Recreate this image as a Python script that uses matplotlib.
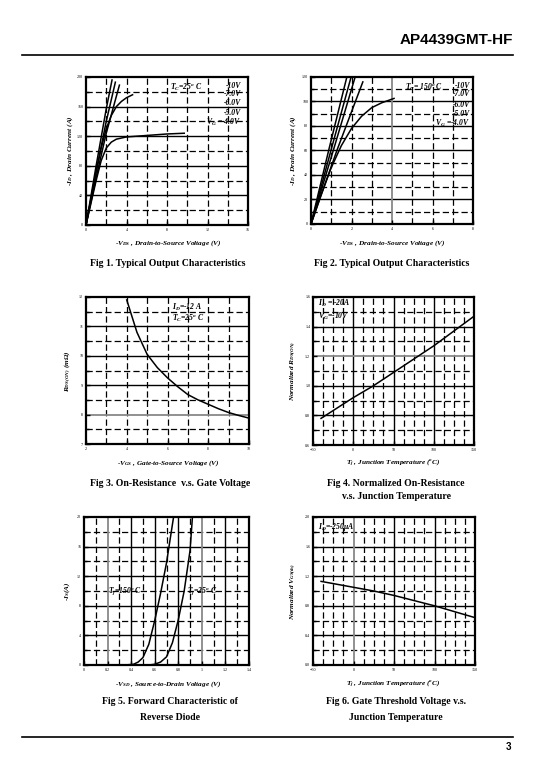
import numpy as np
import matplotlib
matplotlib.use('Agg')
import matplotlib.pyplot as plt

plt.rcParams['font.family'] = 'Liberation Serif'
plt.rcParams['mathtext.fontset'] = 'custom'
plt.rcParams['mathtext.rm'] = 'Liberation Serif:bold:italic'
plt.rcParams['mathtext.it'] = 'Liberation Serif:bold:italic'
plt.rcParams['mathtext.bf'] = 'Liberation Serif:bold:italic'

# ---- data ----
# Fig 1, Tc = 25 C, output characteristics (-VDS in V, -ID in A)
f1_vg_labels = ['-10V', '-7.0V', '-6.0V', '-5.0V', '$V_G$ =-4.0V']
f1_v10 = [0, 1.0, 2.0, 2.57]
f1_i10 = [0, 80, 157, 196]
f1_v7 = [0, 1.0, 2.0, 2.9]
f1_i7 = [0, 72, 140, 193]
f1_v6 = [0, 1.0, 2.0, 3.3]
f1_i6 = [0, 64, 124, 189]
f1_v5 = [0, 0.5, 1.0, 1.5, 2.0, 2.5, 3.0, 3.5, 4.0, 4.6]
f1_i5 = [0, 36, 72, 104, 130, 148, 160, 167, 172, 176]
f1_v4 = [0, 0.5, 1.0, 1.5, 2.0, 2.5, 3.0, 4.0, 5.0, 6.0, 8.0, 9.7]
f1_i4 = [0, 30, 60, 87, 104, 112, 116, 119, 120, 121, 123, 124]

# Fig 2, Tc = 150 C
f2_v10 = [0, 0.9, 1.77]
f2_i10 = [0, 62, 120]
f2_v7 = [0, 1.0, 1.98]
f2_i7 = [0, 61, 120]
f2_v6 = [0, 1.1, 2.18]
f2_i6 = [0, 60, 120]
f2_v5 = [0, 1.3, 2.56]
f2_i5 = [0, 61, 116]
f2_v4 = [0, 0.5, 1.0, 1.5, 2.0, 2.5, 3.0, 3.5, 4.1]
f2_i4 = [0, 24, 46, 64, 78, 88, 95, 99, 102.5]

# Fig 3, RDS(ON) vs -VGS
f3_vgs = [4.0, 4.5, 5.0, 5.5, 6.0, 6.5, 7.0, 7.5, 8.0, 8.5, 9.0, 9.5, 10.0]
f3_rds = [11.9, 10.8, 10.05, 9.6, 9.25, 8.95, 8.68, 8.5, 8.35, 8.2, 8.07, 7.97, 7.88]

# Fig 4, normalized RDS(ON) vs Tj
f4_tj = [-40, 0, 25, 50, 75, 100, 125, 150]
f4_rn = [0.78, 0.92, 1.0, 1.09, 1.18, 1.27, 1.37, 1.47]

# Fig 5, reverse diode
f5_v150 = [0, 0.35, 0.42, 0.46, 0.5, 0.55, 0.6, 0.65, 0.7, 0.76]
f5_i150 = [0, 0, 0.1, 0.4, 1.0, 2.8, 6.0, 9.7, 13.8, 20]
f5_v25 = [0.4, 0.55, 0.6, 0.65, 0.7, 0.75, 0.8, 0.85, 0.9, 0.92]
f5_i25 = [0, 0, 0.1, 0.4, 1.1, 3.0, 6.1, 10.0, 15.5, 20]

# Fig 6, normalized VGS(th) vs Tj
f6_tj = [-40, 0, 25, 50, 75, 100, 125, 150]
f6_vn = [1.13, 1.05, 1.0, 0.94, 0.87, 0.80, 0.72, 0.64]

W, H = 533, 772
fig = plt.figure(figsize=(W / 100, H / 100), dpi=100)


def px_axes(x0, y0, x1, y1):
    return fig.add_axes([x0 / W, 1 - y1 / H, (x1 - x0) / W, (y1 - y0) / H])


def ftext(x, y, s, **kw):
    fig.text(x / W, 1 - y / H, s, **kw)


def frame(ax, xlim, ylim, xt, yt, vsol, vdash, hsol, hdash, vgray=(), hgray=()):
    ax.set_xlim(*xlim)
    ax.set_ylim(*ylim)
    ax.set_xticks(xt)
    ax.set_yticks(yt)
    ax.set_yticks(hdash + hsol, minor=True)
    ax.tick_params(direction='in', length=3, width=1, labelsize=3, pad=2)
    ax.tick_params(which='minor', direction='in', length=2, width=1)
    for v in vsol:
        ax.axvline(v, color='black', lw=1.0, zorder=1)
    for v in vdash:
        ax.axvline(v, color='black', lw=0.9, ls=(0, (5, 2.5)), zorder=1)
    for h in hsol:
        ax.axhline(h, color='black', lw=1.0, zorder=1)
    for h in hdash:
        ax.axhline(h, color='black', lw=0.9, ls=(0, (5, 2.5)), zorder=1)
    for v in vgray:
        ax.axvline(v, color='#888888', lw=1.3, zorder=1)
    for h in hgray:
        ax.axhline(h, color='#888888', lw=1.3, zorder=1)
    for s in ax.spines.values():
        s.set_linewidth(1.6)


lab = dict(fontsize=5.2, fontweight='bold', style='italic', ha='center', va='center')
cap = dict(fontsize=7, fontweight='bold', ha='center', va='center')
ann = dict(fontsize=5.5, fontweight='bold', style='italic', va='center')

# ---------------- Fig 1 ----------------
ax1 = px_axes(86, 77, 248, 225)
frame(ax1, (0, 16), (0, 200), [0, 4, 8, 12, 16], [0, 40, 80, 120, 160, 200],
      [], [2, 4, 6, 8, 10, 12, 14], [40, 80, 120, 160], [20, 60, 100, 140, 180])
for xs, ys in [(f1_v10, f1_i10), (f1_v7, f1_i7), (f1_v6, f1_i6), (f1_v5, f1_i5), (f1_v4, f1_i4)]:
    ax1.plot(xs, ys, color='black', lw=1.1, zorder=3)
ax1.text(0.52, 0.93, '$T_C$=25$^o$ C', transform=ax1.transAxes, **ann)
for s, fy in zip(f1_vg_labels, [0.94, 0.885, 0.824, 0.757, 0.69]):
    ax1.text(0.96, fy, s, transform=ax1.transAxes, ha='right', fontsize=5.5,
             fontweight='bold', style='italic', va='center')
ftext(168, 243, '-$V_{DS}$ , Drain-to-Source Voltage (V)', **lab)
ftext(70, 151, '-$I_D$ , Drain Current (A)', rotation=90, **lab)
ftext(168, 264, 'Fig 1. Typical Output Characteristics', **cap)

# ---------------- Fig 2 ----------------
ax2 = px_axes(311, 77, 473, 224)
frame(ax2, (0, 8), (0, 120), [0, 2, 4, 6, 8], [0, 20, 40, 60, 80, 100, 120],
      [], [1, 2, 3, 5, 6, 7], [20, 40, 60, 80, 100], [10, 30, 50, 70, 90, 110], vgray=[4])
for xs, ys in [(f2_v10, f2_i10), (f2_v7, f2_i7), (f2_v6, f2_i6), (f2_v5, f2_i5), (f2_v4, f2_i4)]:
    ax2.plot(xs, ys, color='black', lw=1.1, zorder=3)
ax2.text(0.58, 0.93, '$T_C$= 150$^o$ C', transform=ax2.transAxes, **ann)
for s, fy in zip(f1_vg_labels, [0.94, 0.885, 0.81, 0.745, 0.685]):
    ax2.text(0.985, fy, s, transform=ax2.transAxes, ha='right', fontsize=5.5,
             fontweight='bold', style='italic', va='center')
ftext(392, 243, '-$V_{DS}$ , Drain-to-Source Voltage (V)', **lab)
ftext(293, 151, '-$I_D$ , Drain Current (A)', rotation=90, **lab)
ftext(392, 264, 'Fig 2. Typical Output Characteristics', **cap)

# ---------------- Fig 3 ----------------
ax3 = px_axes(86, 297, 249, 444)
frame(ax3, (2, 10), (7, 12), [2, 4, 6, 8, 10], [7, 8, 9, 10, 11, 12],
      [], [3, 4, 5, 6, 7, 8, 9], [9, 10, 11], [7.5, 8.5, 9.5, 10.5, 11.5], hgray=[8])
ax3.plot(f3_vgs, f3_rds, color='black', lw=1.1, zorder=3)
ax3.text(0.53, 0.93, '$I_D$=-12 A', transform=ax3.transAxes, **ann)
ax3.text(0.53, 0.855, '$T_C$=25$^o$ C', transform=ax3.transAxes, **ann)
ftext(168, 463, '-$V_{GS}$ , Gate-to-Source Voltage (V)', **lab)
ftext(68, 371, '$R_{DS(ON)}$ (m$\\Omega$)', rotation=90, **lab)
ftext(170, 483, 'Fig 3. On-Resistance  v.s. Gate Voltage', **cap)

# ---------------- Fig 4 ----------------
ax4 = px_axes(313, 297, 474, 445)
minor_t = [-37.5, -25, -12.5, 12.5, 25, 37.5, 62.5, 75, 87.5, 112.5, 125, 137.5]
frame(ax4, (-50, 150), (0.6, 1.6), [-50, 0, 50, 100, 150], [0.6, 0.8, 1.0, 1.2, 1.4, 1.6],
      [0, 50, 100], minor_t, [0.8, 1.0, 1.4], [0.7, 0.9, 1.1, 1.3, 1.5], hgray=[1.2])
ax4.plot(f4_tj, f4_rn, color='black', lw=1.1, zorder=3)
ax4.text(0.03, 0.955, '$I_D$ = -20A', transform=ax4.transAxes, **ann)
ax4.text(0.03, 0.87, '$V_G$=-10V', transform=ax4.transAxes, **ann)
ftext(393, 463, '$T_j$ , Junction Temperature ($^o$C)', **lab)
ftext(293, 371, 'Normalized $R_{DS(ON)}$', rotation=90, **lab)
ftext(396, 483, 'Fig 4. Normalized On-Resistance', **cap)
ftext(396, 497, 'v.s. Junction Temperature', **cap)

# ---------------- Fig 5 ----------------
ax5 = px_axes(84, 517, 249, 665)
frame(ax5, (0, 1.4), (0, 20), [0, 0.2, 0.4, 0.6, 0.8, 1.0, 1.2, 1.4], [0, 4, 8, 12, 16, 20],
      [0.4, 0.6, 0.8, 1.2], [0.1, 0.3, 0.5, 0.7, 0.9, 1.1, 1.3], [4, 8, 12, 16],
      [2, 6, 10, 14, 18], vgray=[0.2, 1.0])
ax5.set_xticklabels(['0', '0.2', '0.4', '0.6', '0.8', '1', '1.2', '1.4'])
ax5.plot(f5_v150, f5_i150, color='black', lw=1.1, zorder=3)
ax5.plot(f5_v25, f5_i25, color='black', lw=1.1, zorder=3)
ax5.text(0.25, 0.5, '$T_j$=150$^o$ C', transform=ax5.transAxes, ha='center',
         fontsize=5.5, fontweight='bold', style='italic', va='center', zorder=4)
ax5.text(0.715, 0.5, '$T_j$=25$^o$ C', transform=ax5.transAxes, ha='center',
         fontsize=5.5, fontweight='bold', style='italic', va='center', zorder=4)
ftext(168, 684, '-$V_{SD}$ , Source-to-Drain Voltage (V)', **lab)
ftext(67, 591, '-$I_S$(A)', rotation=90, **lab)
ftext(170, 702, 'Fig 5. Forward Characteristic of', **cap)
ftext(170, 717, 'Reverse Diode', **cap)

# ---------------- Fig 6 ----------------
ax6 = px_axes(313, 517, 475, 665)
frame(ax6, (-50, 150), (0, 2.0), [-50, 0, 50, 100, 150], [0, 0.4, 0.8, 1.2, 1.6, 2.0],
      [50, 100], minor_t, [0.4, 0.8, 1.2, 1.6], [0.2, 0.6, 1.0, 1.4, 1.8], vgray=[0])
ax6.set_yticklabels(['0.0', '0.4', '0.8', '1.2', '1.6', '2.0'])
ax6.plot(f6_tj, f6_vn, color='black', lw=1.1, zorder=3)
ax6.text(0.03, 0.93, '$I_D$=-250$\\mu$A', transform=ax6.transAxes, **ann)
ftext(393, 684, '$T_j$ , Junction Temperature ($^o$C)', **lab)
ftext(293, 591, 'Normalized $V_{GS(th)}$', rotation=90, **lab)
ftext(396, 702, 'Fig 6. Gate Threshold Voltage v.s.', **cap)
ftext(396, 717, 'Junction Temperature', **cap)

# ---------------- page header / footer ----------------
ftext(513, 40, 'AP4439GMT-HF', fontsize=11, fontweight='bold', family='Liberation Sans',
      ha='right', va='center')
fig.add_artist(plt.Line2D([22 / W, 513 / W], [1 - 55 / H, 1 - 55 / H], color='black', lw=1.2))
fig.add_artist(plt.Line2D([22 / W, 513 / W], [1 - 737 / H, 1 - 737 / H], color='black', lw=1.2))
ftext(511, 747, '3', fontsize=7, fontweight='bold', family='Liberation Sans', ha='right', va='center')

fig.savefig('out.png', dpi=100, facecolor='white')
